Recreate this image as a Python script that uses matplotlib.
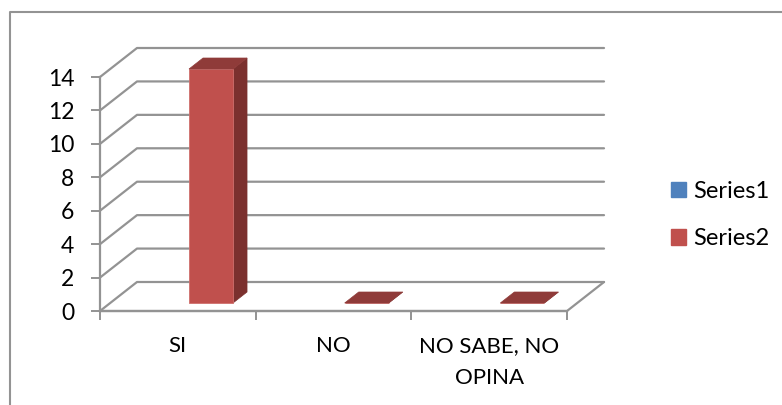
import matplotlib
matplotlib.use("Agg")
import matplotlib.pyplot as plt
from matplotlib.lines import Line2D
from matplotlib.patches import Patch, Polygon

categories = ["SI", "NO", "NO SABE, NO\nOPINA"]
series1 = [None, None, None]
series2 = [14, 0, 0]
y_ticks = [0, 2, 4, 6, 8, 10, 12, 14]

GREY = "#939393"
BLUE = "#4f81bd"
RED = "#c0504d"
RED_SIDE = "#7b302e"
RED_TOP = "#8f3b39"

W, H = 782, 405
X0, Y0 = 100, 311        # origen del eje frontal, en pixeles
CAT_PX = 155.67          # ancho de una categoria
UNIT_PX = 16.714         # alto de una unidad
DEPTH_X, DEPTH_Y = 37, 29  # desplazamiento de la pared del fondo

plt.rcParams["font.family"] = ["Lato", "DejaVu Sans"]


def proj(x, v, d=0.0):
    """Proyeccion oblicua: categoria, valor y profundidad (0 a 1) a datos."""
    return x + d * DEPTH_X / CAT_PX, v + d * DEPTH_Y / UNIT_PX


def line3d(ax, pts, **kw):
    xy = [proj(*p) for p in pts]
    ax.plot([p[0] for p in xy], [p[1] for p in xy], color=GREY, lw=1.6,
            solid_capstyle="round", solid_joinstyle="round", clip_on=False, **kw)


def bar3d(ax, x, value, width, d0, d1, color, side, top):
    x1 = x + width
    front = [proj(x, 0, d0), proj(x1, 0, d0), proj(x1, value, d0), proj(x, value, d0)]
    right = [proj(x1, 0, d0), proj(x1, 0, d1), proj(x1, value, d1), proj(x1, value, d0)]
    upper = [proj(x, value, d0), proj(x1, value, d0), proj(x1, value, d1), proj(x, value, d1)]
    ax.add_patch(Polygon(right, fc=side, ec=side, lw=0.5, zorder=4))
    ax.add_patch(Polygon(front, fc=color, ec="#cf6f6c", lw=0.6, zorder=5))
    ax.add_patch(Polygon(upper, fc=top, ec=top, lw=0.5, zorder=6))


fig = plt.figure(figsize=(W / 100, H / 100), dpi=100, facecolor="white")
ax = fig.add_axes([0, 0, 1, 1])
ax.set_xlim(-X0 / CAT_PX, (W - X0) / CAT_PX)
ax.set_ylim((Y0 - H) / UNIT_PX, Y0 / UNIT_PX)
ax.patch.set_visible(False)

n = len(categories)

# paredes: lineas de rejilla y piso
for v in y_ticks:
    line3d(ax, [(0, v, 0), (0, v, 1), (n, v, 1)], zorder=2)
line3d(ax, [(0, 0, 0), (n, 0, 0), (n, 0, 1)], zorder=2)

# barras
bar_w = 44 / CAT_PX
for i, v in enumerate(series2):
    bar3d(ax, i + 0.5 + 0.1475 - bar_w / 2, v, bar_w, 0.276, 0.655, RED, RED_SIDE, RED_TOP)

# ejes
for name in ("top", "right"):
    ax.spines[name].set_visible(False)
ax.spines["left"].set_position(("data", 0))
ax.spines["bottom"].set_position(("data", 0))
ax.spines["left"].set_bounds(0, 14)
ax.spines["bottom"].set_bounds(0, n)
for name in ("left", "bottom"):
    ax.spines[name].set_color(GREY)
    ax.spines[name].set_linewidth(1.6)

ax.set_yticks(y_ticks)
ax.tick_params(axis="y", length=6.5, width=1.4, color=GREY, labelsize=16.5, pad=12)
ax.set_xticks(range(n + 1))
ax.set_xticklabels([])
ax.set_xticks([i + 0.5 for i in range(n)], minor=True)
ax.set_xticklabels(categories, minor=True, fontsize=16, linespacing=1.72)
ax.tick_params(axis="x", which="major", length=6.5, width=1.4, color=GREY)
ax.tick_params(axis="x", which="minor", length=0, pad=18)

# marco exterior del grafico, cortado por la derecha y por abajo
fig.add_artist(Line2D([10 / W, 10 / W, 1], [0, 1 - 12 / H, 1 - 12 / H],
                      transform=fig.transFigure, color=GREY, lw=1.5))

handles = [Patch(fc=BLUE, ec=BLUE), Patch(fc=RED, ec=RED)]
ax.legend(handles, ["Series1", "Series2"], frameon=False, fontsize=17,
          loc="center left", bbox_to_anchor=(664 / W, 1 - 215 / H),
          handlelength=0.63, handleheight=0.63, handletextpad=0.3,
          labelspacing=1.14, borderpad=0, borderaxespad=0.3)

fig.savefig("out.png", dpi=100, facecolor="white")
